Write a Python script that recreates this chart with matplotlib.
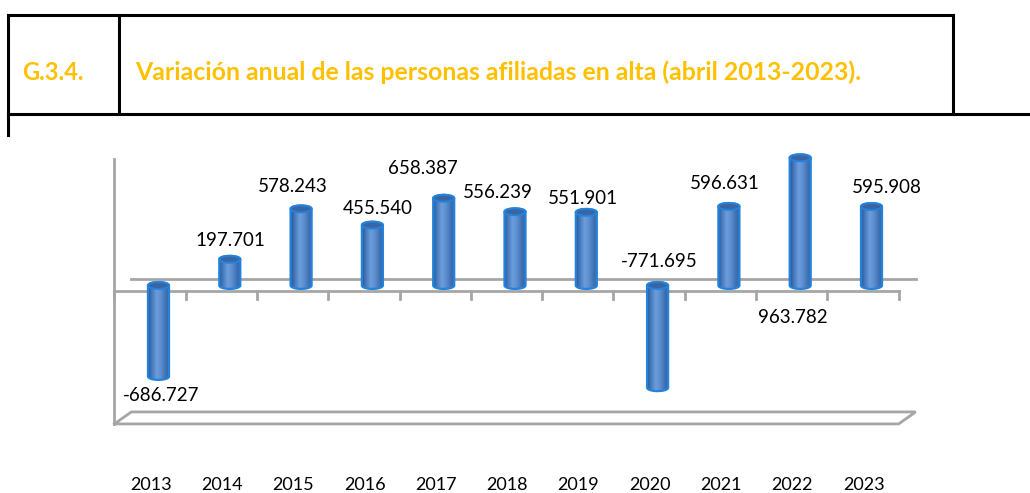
import numpy as np
import matplotlib
matplotlib.use("Agg")
import matplotlib.pyplot as plt
from matplotlib.path import Path
from matplotlib.patches import PathPatch, Ellipse
from matplotlib.colors import LinearSegmentedColormap

plt.rcParams['font.family'] = ['Lato', 'DejaVu Sans']

# data
years = ['2013', '2014', '2015', '2016', '2017', '2018', '2019', '2020', '2021', '2022', '2023']
values = [-686727, 197701, 578243, 455540, 658387, 556239, 551901, -771695, 596631, 963782, 595908]
labels = ['-686.727', '197.701', '578.243', '455.540', '658.387', '556.239',
          '551.901', '-771.695', '596.631', '963.782', '595.908']
# where Excel put each label, offset from the bar end (pixels)
label_offsets = [(3, -19), (1, 19), (-8, 22), (5, 17), (-21, 30), (-17, 19),
                 (-3, 14), (2, 126), (-4, 23), (-7, -160), (15, 19)]

title_code = 'G.3.4.'
title_text = 'Variación anual de las personas afiliadas en alta (abril 2013-2023).'
GOLD = '#FFC000'
GRID = '#a6a6a6'

fig = plt.figure(figsize=(10.30, 4.93), dpi=100)

# header table (figure pixels)
frame = fig.add_axes([0, 0, 1, 1])
frame.set_xlim(0, 1030)
frame.set_ylim(493, 0)
frame.axis('off')
lw = 2.2
frame.plot([8, 953], [15, 15], color='black', lw=lw)
frame.plot([8, 1030], [113.5, 113.5], color='black', lw=lw)
frame.plot([8, 8], [15, 135], color='black', lw=lw)
frame.plot([119, 119], [15, 113.5], color='black', lw=lw)
frame.plot([953, 953], [15, 113.5], color='black', lw=lw)
t_code = frame.text(22, 72, title_code, color=GOLD, fontsize=16, fontweight='bold', va='center')
t_main = frame.text(135, 72, title_text, color=GOLD, fontsize=16, fontweight='bold', va='center')

# stretch the header texts to the widths they have in the original
renderer = fig.canvas.get_renderer()
for t, target in [(t_code, 62), (t_main, 730)]:
    wpx = t.get_window_extent(renderer).width
    t.set_fontsize(16 * target / wpx)

# chart axes
ax = fig.add_axes([0.0985, 0.1254, 0.8030, 0.5911])
for s in ax.spines.values():
    s.set_visible(False)
ax.set_yticks([])

hdx, hdy = 0.119, 45300      # half depth of the 3D box
floor = -1.0e6
top = 1.0e6
n = len(years)
x = np.arange(n)

# walls / axes
ax.plot([-0.5 - hdx, -0.5 - hdx], [floor - hdy, top - hdy], color=GRID, lw=2, zorder=1)
ax.plot([-0.5 + hdx, n - 0.5 + hdx], [hdy, hdy], color=GRID, lw=2, zorder=1)
ax.plot([-0.5 - hdx, n - 0.5 - hdx], [-hdy, -hdy], color=GRID, lw=2, zorder=1)
for k in range(n + 1):
    ax.plot([k - 0.5 - hdx] * 2, [-hdy, -hdy - 60000], color=GRID, lw=2, zorder=1)
fx = [-0.5 - hdx, n - 0.5 - hdx, n - 0.5 + hdx, -0.5 + hdx, -0.5 - hdx]
fy = [floor - hdy, floor - hdy, floor + hdy, floor + hdy, floor - hdy]
ax.plot(fx, fy, color=GRID, lw=2, zorder=1, solid_joinstyle='miter')

# cylinders
cmap = LinearSegmentedColormap.from_list(
    'cyl', ['#2a5790', '#4a7ec2', '#6d9ddb', '#5c8dcf', '#4373b3', '#30609e'])
grad = np.linspace(0, 1, 64).reshape(1, -1)
w = 0.295
eh = 52000

for xi, v in zip(x, values):
    lo, hi = min(0, v), max(0, v)
    t1 = np.linspace(np.pi, 2 * np.pi, 40)
    t2 = np.linspace(0, np.pi, 40)
    px = np.concatenate([xi + w / 2 * np.cos(t1), xi + w / 2 * np.cos(t2)])
    py = np.concatenate([lo + eh / 2 * np.sin(t1), hi + eh / 2 * np.sin(t2)])
    verts = np.column_stack([px, py])
    path = Path(np.vstack([verts, verts[:1]]), closed=True)
    body = PathPatch(path, facecolor='none', edgecolor='#2383dc', lw=1.6, zorder=3)
    ax.add_patch(body)
    im = ax.imshow(grad, cmap=cmap, aspect='auto', zorder=2,
                   extent=(xi - w / 2, xi + w / 2, lo - eh, hi + eh))
    im.set_clip_path(body)
    cap = Ellipse((xi, hi), w, eh, facecolor='#3a65a2', edgecolor='#2383dc', lw=1.4, zorder=4)
    ax.add_patch(cap)

for xi, v, lab, (dx, dy) in zip(x, values, labels, label_offsets):
    ax.annotate(lab, (xi, v), xytext=(dx, dy), textcoords='offset pixels',
                ha='center', va='center', fontsize=13.5, color='black', zorder=5)

ax.set_xticks(x - 0.11, years)
ax.tick_params(axis='x', length=0, pad=33, labelsize=13)
ax.set_xlim(-0.8, 10.8)
ax.set_ylim(-1.1e6, 1.1e6)

fig.savefig('out.png', dpi=100)
